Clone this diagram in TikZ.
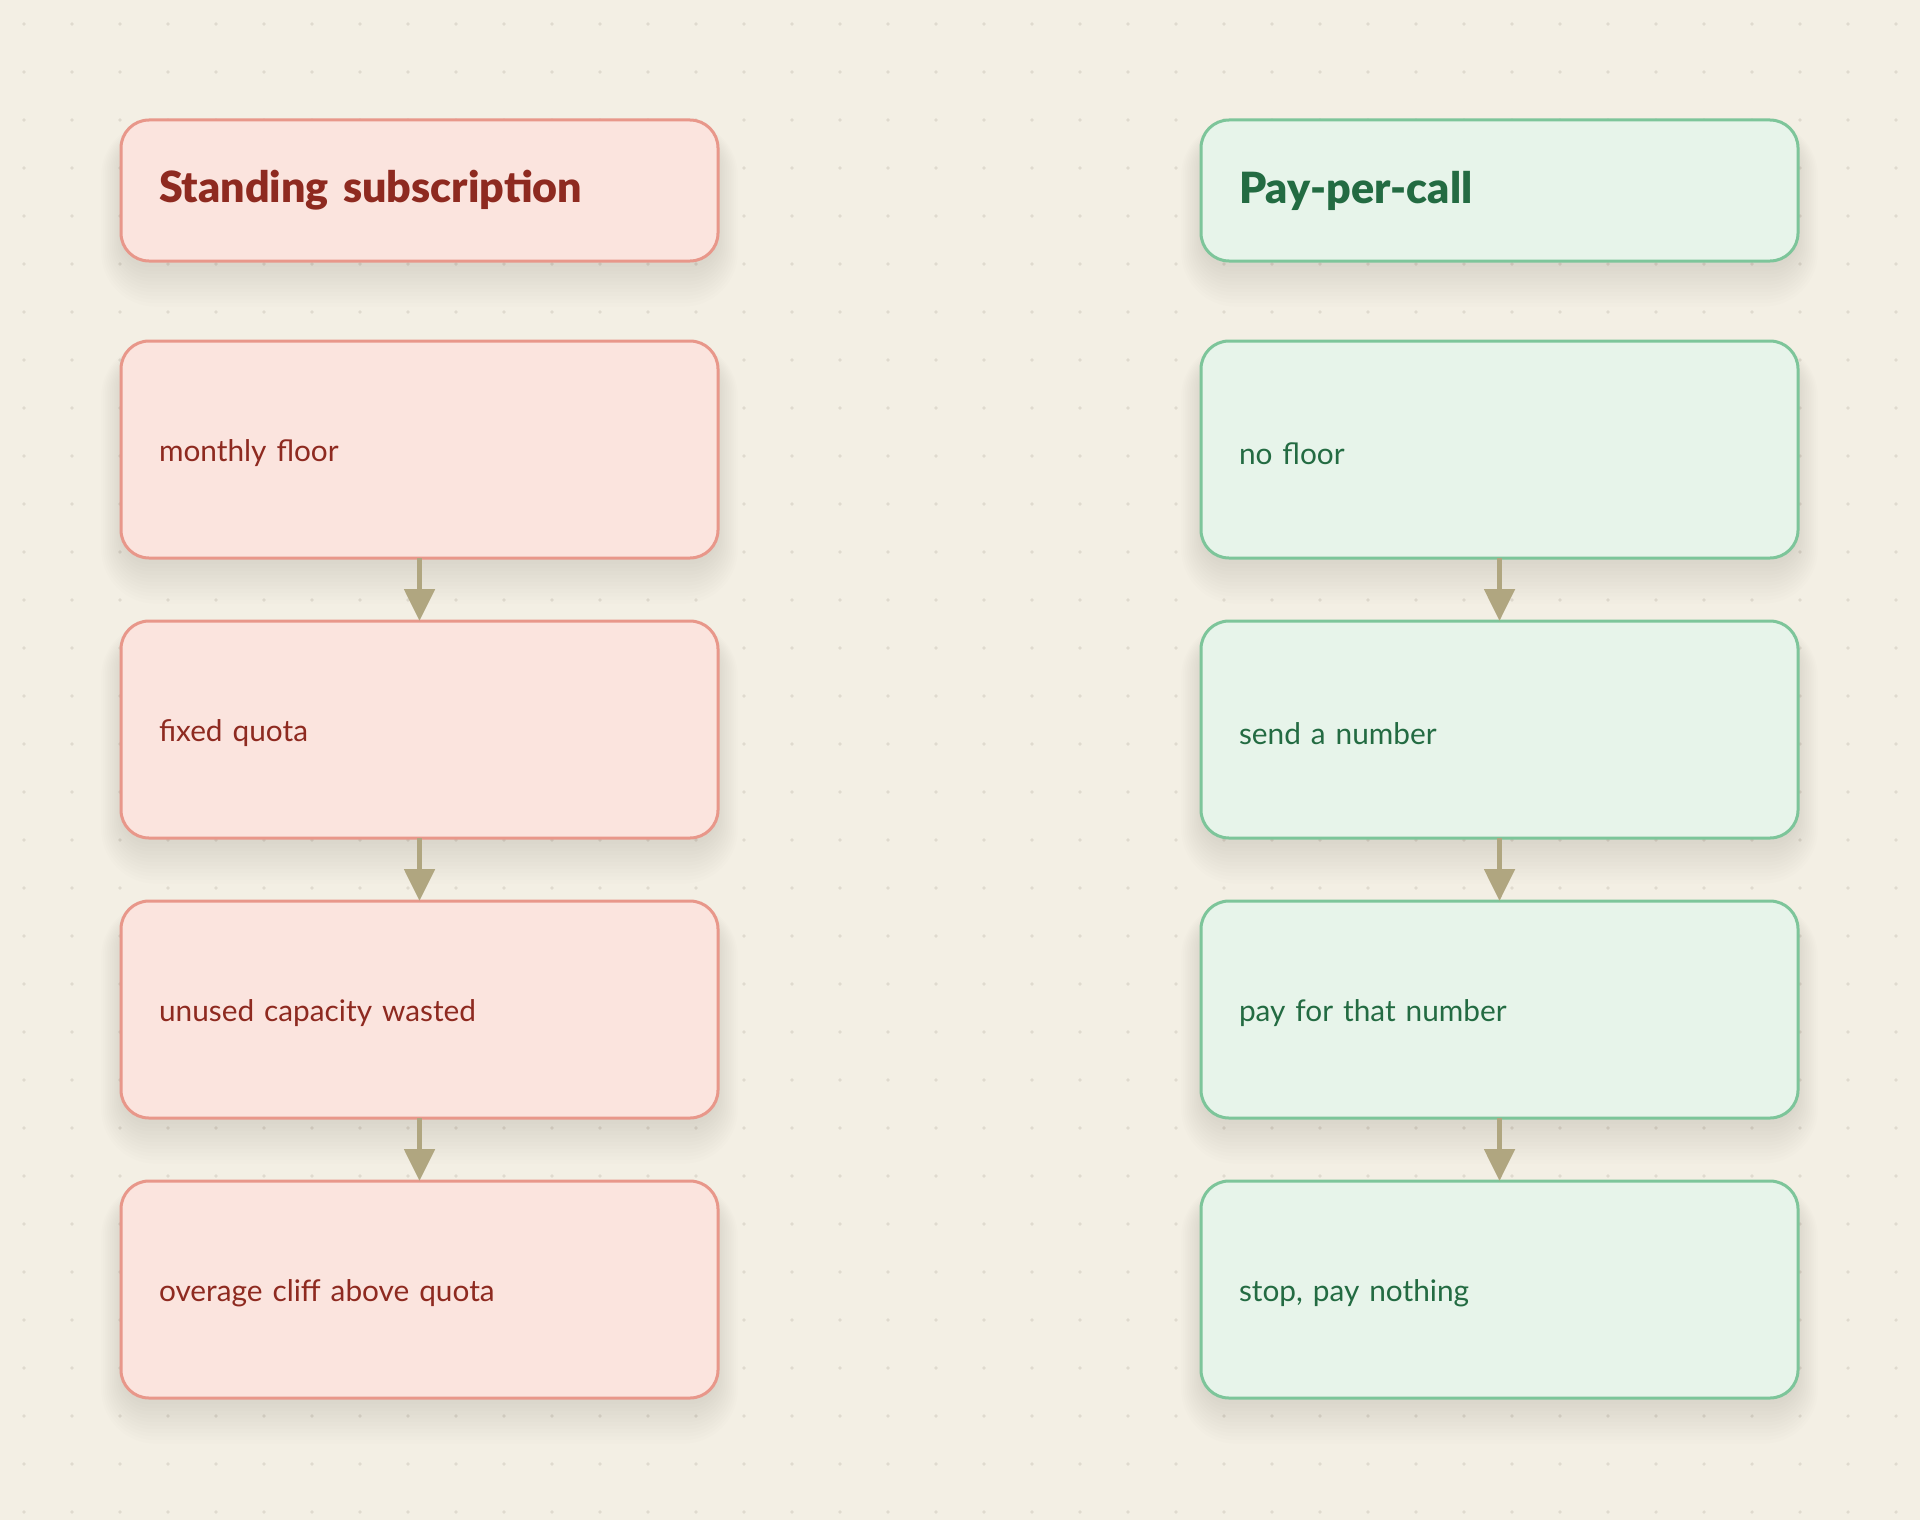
\documentclass[tikz,border=0pt]{standalone}
\usepackage{fontspec}
\setmainfont{Lato}[BoldFont={Lato Black}]
\usetikzlibrary{arrows.meta,positioning}
\definecolor{bgcol}{HTML}{F3EFE4}
\definecolor{dotcol}{HTML}{DFDACE}
\definecolor{redfill}{HTML}{FBE4DE}
\definecolor{redline}{HTML}{E8978A}
\definecolor{redtext}{HTML}{8E2A20}
\definecolor{grnfill}{HTML}{E7F4EA}
\definecolor{grnline}{HTML}{7DC59A}
\definecolor{grntext}{HTML}{236B42}
\definecolor{arrcol}{HTML}{B0A680}
\definecolor{shadcol}{HTML}{7A6440}
\pgfdeclarelayer{bg}
\pgfdeclarelayer{shadow}
\pgfsetlayers{bg,shadow,main}
\tikzset{
  box/.style={rectangle, rounded corners=14pt, line width=1.5pt, outer sep=0pt,
    minimum width=298.5pt, text width=260.5pt, inner xsep=19pt, align=left,
    font=\fontsize{14.9}{18}\selectfont, anchor=north west},
  redbox/.style={box, fill=redfill, draw=redline, text=redtext},
  grnbox/.style={box, fill=grnfill, draw=grnline, text=grntext},
  headbox/.style={minimum height=70.5pt, font=\fontsize{21.5}{25}\selectfont\bfseries},
  stepbox/.style={minimum height=108.5pt},
  flow/.style={draw=arrcol, line width=2.6pt, -{Triangle[width=15pt,length=16pt]}},
}
\newcommand{\lowered}[1]{\raisebox{-2pt}[\height][\depth]{#1}}
\newcommand{\softshadow}[1]{%
  \foreach \e in {0,3,...,33} {
    \fill[shadcol, opacity=0.012, rounded corners=14pt+0.4*\e pt]
      ([shift={(-0.6*\e,-0.5*\e+18)}]#1.north west) rectangle ([shift={(0.6*\e,1.2*\e+6)}]#1.south east);
  }%
}
\begin{document}
\begin{tikzpicture}[x=0.5pt,y=-0.5pt]
\useasboundingbox (0,0) rectangle (1920,1520);
\begin{pgfonlayer}{bg}
\fill[bgcol] (0,0) rectangle (1920,1520);
\foreach \i in {0,...,39} {
  \foreach \j in {0,...,31} {
    \fill[dotcol] (24+48*\i,24+48*\j) circle (1.8);
  }
}
\end{pgfonlayer}

\node[redbox, headbox] (lh) at (121,120) {Standing subscription};
\node[redbox, stepbox] (l1) at (121,341) {\lowered{monthly floor}};
\node[redbox, stepbox] (l2) at (121,621) {\lowered{fixed quota}};
\node[redbox, stepbox] (l3) at (121,901) {\lowered{unused capacity wasted}};
\node[redbox, stepbox] (l4) at (121,1181) {\lowered{overage cliff above quota}};

\node[grnbox, headbox] (rh) at (1201,120) {Pay-per-call};
\node[grnbox, stepbox] (r1) at (1201,341) {\lowered{no floor}};
\node[grnbox, stepbox] (r2) at (1201,621) {\lowered{send a number}};
\node[grnbox, stepbox] (r3) at (1201,901) {\lowered{pay for that number}};
\node[grnbox, stepbox] (r4) at (1201,1181) {\lowered{stop, pay nothing}};

\begin{pgfonlayer}{shadow}
\foreach \n in {lh,l1,l2,l3,l4,rh,r1,r2,r3,r4} { \softshadow{\n} }
\end{pgfonlayer}

\draw[flow] (l1.south) -- (l2.north);
\draw[flow] (l2.south) -- (l3.north);
\draw[flow] (l3.south) -- (l4.north);
\draw[flow] (r1.south) -- (r2.north);
\draw[flow] (r2.south) -- (r3.north);
\draw[flow] (r3.south) -- (r4.north);
\end{tikzpicture}
\end{document}
